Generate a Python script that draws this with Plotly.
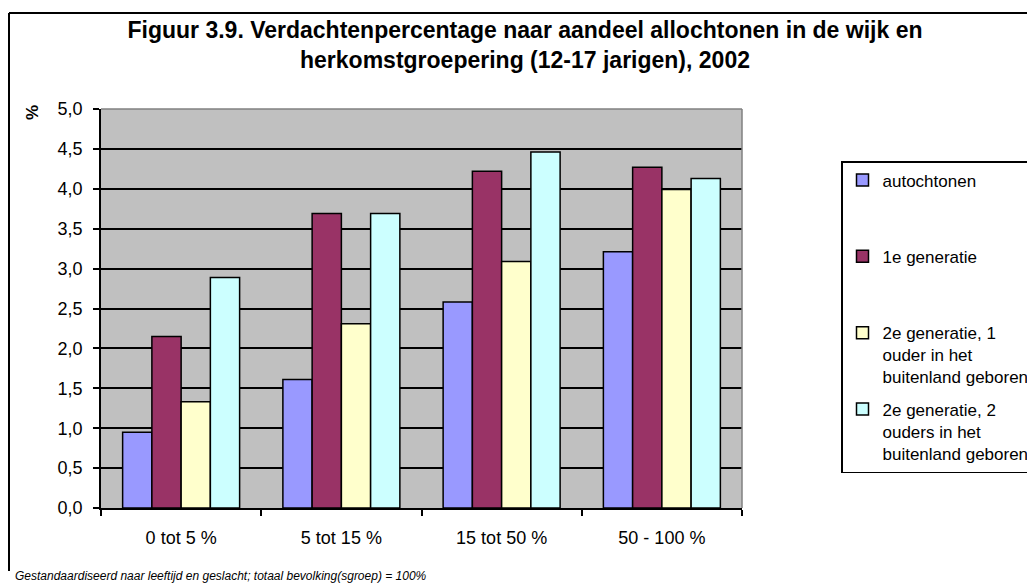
import plotly.graph_objects as go

categories = ["0 tot 5 %", "5 tot 15 %", "15 tot 50 %", "50 - 100 %"]
series_names = [
    "autochtonen",
    "1e generatie",
    "2e generatie, 1<br>ouder in het<br>buitenland geboren",
    "2e generatie, 2<br>ouders in het<br>buitenland geboren",
]
autochtonen = [0.95, 1.61, 2.58, 3.21]
eerste_generatie = [2.15, 3.69, 4.22, 4.27]
tweede_gen_1_ouder = [1.33, 2.31, 3.09, 3.99]
tweede_gen_2_ouders = [2.89, 3.69, 4.46, 4.13]
series_values = [autochtonen, eerste_generatie, tweede_gen_1_ouder, tweede_gen_2_ouders]
colors = ["#9999FF", "#993366", "#FFFFCC", "#CCFFFF"]
y_ticks = [0, 0.5, 1, 1.5, 2, 2.5, 3, 3.5, 4, 4.5, 5]

# page has an 8px body margin: the figure starts at (8, 8) in the window
OFF = 8
W, H = 1035 - OFF, 584 - OFF
L, R, T, B = 101 - OFF, 742 - OFF, 109 - OFF, 508 - OFF
FONT = "Arial, Liberation Sans, sans-serif"


def px_x(px):
    return (px - OFF - L) / (R - L)


def px_y(py):
    return (B - (py - OFF)) / (B - T)


def pad_label(name):
    n = name.count("<br>")
    return name + "<br>\u00a0" * (2 - n)


fig = go.Figure()
for i, (name, vals, col) in enumerate(zip(series_names, series_values, colors)):
    fig.add_trace(go.Bar(
        x=categories, y=vals, name=pad_label(name),
        marker=dict(color=col, line=dict(color="black", width=1.5)),
        legendgroup=f"g{i}",
    ))

fig.update_layout(
    width=W, height=H,
    margin=dict(l=L, r=W - R, t=T, b=H - B, autoexpand=False),
    paper_bgcolor="white",
    plot_bgcolor="#C0C0C0",
    barmode="group", bargap=0.27, bargroupgap=0,
    separators=",.",
    font=dict(family=FONT, color="black", size=18),
    title=dict(
        text="<b>Figuur 3.9. Verdachtenpercentage naar aandeel allochtonen in de wijk en<br>herkomstgroepering (12-17 jarigen), 2002</b>",
        x=(525 - OFF) / W, xanchor="center", xref="container",
        y=1 - (38 - OFF) / H, yanchor="top", yref="container",
        font=dict(size=23, family=FONT, color="black"),
    ),
    legend=dict(
        x=px_x(841), y=px_y(161), xanchor="left", yanchor="top",
        bgcolor="white", bordercolor="black", borderwidth=1.5,
        font=dict(size=17, family=FONT, color="black"),
        valign="top", tracegroupgap=7, traceorder="grouped",
    ),
    xaxis=dict(
        type="category", tickson="boundaries", ticks="outside", ticklen=6,
        tickcolor="black", tickwidth=1.5, showline=True, linecolor="black",
        linewidth=1.5, showgrid=False, ticklabelstandoff=13,
        tickfont=dict(size=18),
    ),
    yaxis=dict(
        range=[0, 5], tickvals=y_ticks, tickformat=".1f", ticks="outside",
        ticklen=6, tickcolor="black", tickwidth=1.5, showline=True,
        linecolor="black", linewidth=1.5, showgrid=True, gridcolor="black",
        gridwidth=1.5, zeroline=False, ticklabelstandoff=7,
        tickfont=dict(size=18),
    ),
    showlegend=True,
)

# plot-area top/right border (gray)
fig.add_shape(type="line", xref="paper", yref="paper", x0=0, x1=1, y0=1, y1=1,
              line=dict(color="#808080", width=1.5))
fig.add_shape(type="line", xref="paper", yref="paper", x0=1, x1=1, y0=0, y1=1,
              line=dict(color="#808080", width=1.5))
# chart frame (top and left edges visible)
fig.add_shape(type="line", xref="paper", yref="paper", x0=px_x(9), x1=px_x(1040),
              y0=px_y(13), y1=px_y(13), line=dict(color="black", width=2))
fig.add_shape(type="line", xref="paper", yref="paper", x0=px_x(9), x1=px_x(9),
              y0=px_y(13), y1=px_y(571), line=dict(color="black", width=2))

fig.add_annotation(text="<b>%</b>", xref="paper", yref="paper", x=px_x(32), y=px_y(113),
                   showarrow=False, textangle=-90, font=dict(size=17, family=FONT),
                   xanchor="center", yanchor="middle")
fig.add_annotation(text="<i>Gestandaardiseerd naar leeftijd en geslacht; totaal bevolking(sgroep) = 100%</i>",
                   xref="paper", yref="paper", x=px_x(13), y=px_y(576), showarrow=False,
                   xanchor="left", yanchor="middle", font=dict(size=12, family=FONT))

fig.write_html("out.html")
